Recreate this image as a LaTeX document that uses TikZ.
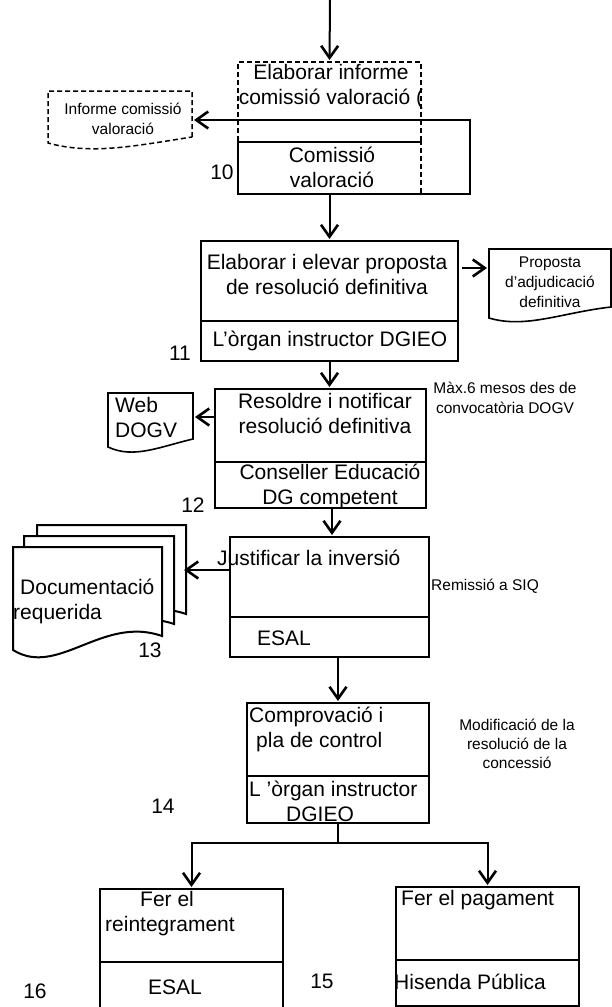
\documentclass[tikz,border=0pt]{standalone}
\usepackage{fontspec}
\setmainfont{Liberation Sans}
\usetikzlibrary{arrows.meta,calc}
\tikzset{
  big/.style={font=\fontsize{21pt}{25pt}\selectfont, inner sep=0pt, align=center},
  small/.style={font=\fontsize{15.5pt}{19.5pt}\selectfont, inner sep=0pt, align=center},
  box/.style={draw, line width=2pt, inner sep=0pt, outer sep=0pt, anchor=north west},
  dbox/.style={draw, line width=1.5pt, dash pattern=on 5pt off 3pt, inner sep=0pt, outer sep=0pt, anchor=north west},
  frame/.style={inner sep=0pt, outer sep=0pt, anchor=north west},
  arr/.style={line width=2pt, -{Straight Barb[length=12pt,width=17pt,line width=2.6pt]}, shorten >=2pt},
  conn/.style={line width=2pt},
}
% #2 node, #3 drop of left end, #4 #5 depth factors of the two control points (positive = below)
\newcommand{\wavedoc}[5][]{%
  \draw[#1] let \p1=(#2.south west), \p2=(#2.south east), \n1={\x2-\x1} in
    (#2.south east) -- (#2.north east) -- (#2.north west) -- (\x1,\y2-#3)
    .. controls (\x1+0.3*\n1*1pt,\y2-#4*#3) and (\x1+0.6*\n1*1pt,\y2-#5*#3) .. (#2.south east) -- cycle;}
\begin{document}
\begin{tikzpicture}[x=1pt,y=-1pt]
\useasboundingbox (0,0) rectangle (611,1007);

% boxes
\node[dbox, minimum width=183pt, minimum height=80pt] (b1u) at (238,62) {};
\node[dbox, minimum width=183pt, minimum height=52pt] (b1l) at (238,142) {};
\node[box, minimum width=257pt, minimum height=80pt] (b2u) at (201,241) {};
\node[box, minimum width=257pt, minimum height=40pt] (b2l) at (201,321) {};
\node[box, minimum width=211pt, minimum height=73pt] (b3u) at (215,389) {};
\node[box, minimum width=211pt, minimum height=46pt] (b3l) at (215,462) {};
\node[box, minimum width=199pt, minimum height=80pt] (b4u) at (230,537) {};
\node[box, minimum width=199pt, minimum height=40pt] (b4l) at (230,617) {};
\node[box, minimum width=182pt, minimum height=73pt] (b5u) at (247,703) {};
\node[box, minimum width=182pt, minimum height=47pt] (b5l) at (247,776) {};
\node[box, minimum width=183pt, minimum height=73pt] (b6u) at (100,889) {};
\node[box, minimum width=183pt, minimum height=60pt] (b6l) at (100,962) {};
\node[box, minimum width=183pt, minimum height=73pt] (b7u) at (396,887) {};
\node[box, minimum width=183pt, minimum height=46pt] (b7l) at (396,960) {};

% documents
\node[frame, minimum width=144pt, minimum height=46pt] (d1) at (48,91) {};
\wavedoc[line width=1.5pt, dash pattern=on 5pt off 3pt]{d1}{6pt}{3}{1.5}
\node[frame, minimum width=122pt, minimum height=58pt] (d2) at (489,249) {};
\wavedoc[line width=1.6pt]{d2}{11pt}{2}{0.5}
\node[frame, minimum width=85pt, minimum height=46pt] (d3) at (108,393) {};
\wavedoc[line width=1.6pt]{d3}{8pt}{2.5}{1}
\node[frame, minimum width=149pt, minimum height=89pt] (ds3) at (37,525) {};
\wavedoc[line width=2pt, fill=white]{ds3}{14pt}{3}{-1.5}
\node[frame, minimum width=150pt, minimum height=88pt] (ds2) at (24,536) {};
\wavedoc[line width=2pt, fill=white]{ds2}{14pt}{3}{-1.5}
\node[frame, minimum width=149pt, minimum height=89pt] (ds1) at (13,547) {};
\wavedoc[line width=2pt, fill=white]{ds1}{14pt}{3}{-1.5}

% coordinates
\coordinate (top) at (330,0);
\coordinate (c1) at (470,194);
\coordinate (c2) at (470,120);
\coordinate (a2) at (0,268);
\coordinate (a3) at (0,417);
\coordinate (a4) at (0,570);
\coordinate (colA) at (332,0);

% connectors
\draw[arr] (top) -- (b1u.north);
\draw[arr] (b1l.north west) -- (b1l.south west) -- (c1) -- (c2) -- (c2 -| d1.east);
\draw[arr] (b1l.south) -- (b2u.north);
\draw[arr] ([xshift=4pt]b2u.east |- a2) -- (d2.west |- a2);
\draw[arr] (b2l.south) -- (b2l.south |- b3u.north);
\draw[arr] (b3u.west |- a3) -- (d3.east |- a3);
\draw[arr] (b3l.south -| colA) -- (b4u.north -| colA);
\draw[arr, shorten >=-2pt] (b4u.west |- a4) -- (ds3.east |- a4);
\draw[arr] (b4l.south -| b5u.north) -- (b5u.north);
\draw[arr] (b5l.south) -- ++(0,20) -| (b6u.north);
\draw[arr] (b5l.south) -- ++(0,20) -| (b7u.north);

% texts
\node[big] (t1) at (331,86.5) {Elaborar informe\\comissió valoració (};
\node[big] (t1b) at (332,167) {Comissió\\valoració};
\node[small] (td1) at (123,119) {Informe comissió\\valoració};
\node[big] (n10) at (222,172) {10};
\node[big] (t2) at (327,274.5) {Elaborar i elevar proposta\\de resolució definitiva};
\node[big] (t2b) at (330,341) {L’òrgan instructor DGIEO};
\node[small, font=\fontsize{15.5pt}{20pt}\selectfont] (td2) at (550,282) {Proposta\\d’adjudicació\\definitiva};
\node[big] (n11) at (180,353) {11};
\node[big] (t3) at (325,413.5) {Resoldre i notificar\\resolució definitiva};
\node[big] (t3b) at (330,486.5) {Conseller Educació\\DG competent};
\node[small, font=\fontsize{15.5pt}{20pt}\selectfont] (tm) at (505,398) {Màx.6 mesos des de\\convocatòria DOGV};
\node[big, align=left, anchor=west] (td3) at (115,417) {Web\\DOGV};
\node[big] (n12) at (193,505) {12};
\node[big, anchor=west] (t4) at (217,558) {Justificar la inversió};
\node[big, anchor=west] (t4b) at (257,638) {ESAL};
\node[small, anchor=west] (tr) at (431,586) {Remissió a SIQ};
\node[big, align=left, anchor=west] (tds) at (13,601.5) {\hspace*{7pt}Documentació\\requerida};
\node[big] (n13) at (150,650) {13};
\node[big, align=left, anchor=west] (t5) at (249,729) {Comprovació i\\\hspace*{7pt}pla de control};
\node[big, align=left, anchor=west] (t5b) at (249,801) {L ’òrgan instructor\\\hspace*{37pt}DGIEO};
\node[small, font=\fontsize{15.5pt}{19pt}\selectfont] (tmod) at (517,744) {Modificació de la\\resolució de la\\concessió};
\node[big] (n14) at (163,806) {14};
\node[big, align=left, anchor=west] (t6) at (105,914) {\hspace*{35pt}Fer el\\reintegrament};
\node[big] (t6b) at (175,987) {ESAL};
\node[big] (n16) at (35,991) {16};
\node[big, anchor=west] (t7) at (401,900) {Fer el pagament};
\node[big, anchor=west] (t7b) at (394,982) {Hisenda Pública};
\node[big] (n15) at (322,981) {15};
\end{tikzpicture}
\end{document}
